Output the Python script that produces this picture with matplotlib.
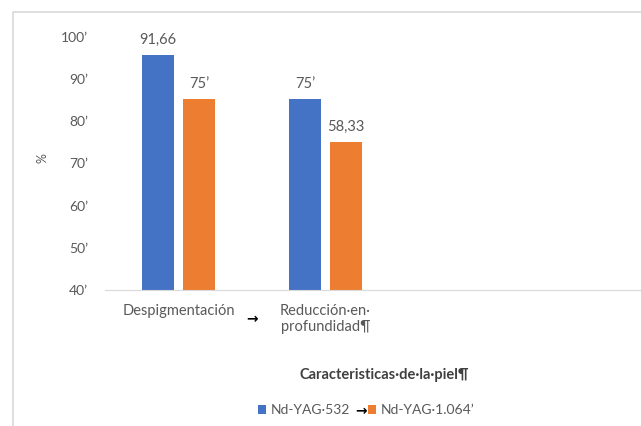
import numpy as np
import matplotlib
matplotlib.use("Agg")
import matplotlib.pyplot as plt
from matplotlib.patches import Rectangle

plt.rcParams['font.family'] = ['Lato', 'DejaVu Sans']

# Datos (alturas; etiquetas tal como aparecen)
categorias = ["Despigmentación", "Reducción·en·\nprofundidad¶"]
series = ["Nd-YAG·532", "Nd-YAG·1.064ʼ"]
alturas_532 = [95.7, 85.3]
alturas_1064 = [85.3, 75.1]
etiquetas_532 = ["91,66", "75ʼ"]
etiquetas_1064 = ["75ʼ", "58,33"]
yticks = [40, 50, 60, 70, 80, 90, 100]

azul = "#4472C4"
naranja = "#ED7D31"
gris = "#595959"

fig = plt.figure(figsize=(6.41, 4.26), dpi=100)
W, H = 641, 426

# marco del gráfico (gris claro, cortado a la derecha y abajo)
fig.patches.append(Rectangle((13 / W, -0.1), 1.2, 1 - 12 / H + 0.1, transform=fig.transFigure,
                             fill=False, edgecolor="#d9d9d9", linewidth=1.2))

ax = fig.add_axes([105 / W, 1 - 290 / H, (W - 105) / W, (290 - 37) / H])

x = np.arange(len(categorias))
ancho = 0.218
desp = 0.139
b1 = ax.bar(x - desp, alturas_532, ancho, color=azul, label=series[0])
b2 = ax.bar(x + desp, alturas_1064, ancho, color=naranja, label=series[1])
ax.bar_label(b1, labels=etiquetas_532, padding=6, color=gris, fontsize=10.5)
ax.bar_label(b2, labels=etiquetas_1064, padding=6, color=gris, fontsize=10.5)

ax.set_ylim(40, 100)
ax.set_xlim(-0.5, -0.5 + (W - 105) / 147)
ax.set_yticks(yticks)
ax.set_yticklabels([f"{v}ʼ" for v in yticks], color=gris, fontsize=10)
ax.set_xticks(x)
ax.set_xticklabels(categorias, color=gris, fontsize=10.5, linespacing=1.15)
ax.tick_params(axis="both", length=0)
ax.tick_params(axis="y", pad=12)
ax.tick_params(axis="x", pad=10)
for lado in ["left", "right", "top"]:
    ax.spines[lado].set_visible(False)
ax.spines["bottom"].set_color("#d9d9d9")

# marca de tabulación entre las categorías
ax.text(0.5, -0.115, "→", transform=ax.get_xaxis_transform(), ha="center", va="center",
        color="black", fontsize=10, family="DejaVu Sans", fontweight="bold")

ax.set_ylabel("%", color=gris, fontsize=9)
ax.yaxis.set_label_coords(-0.105, 0.52)

fig.text(384 / W, 1 - 375 / H, "Caracteristicas·de·la·piel¶", ha="center", va="center",
         fontsize=10.5, fontweight="bold", color="#404040")

ax.legend(loc="center", bbox_to_anchor=(366 / W, 1 - 410 / H), bbox_transform=fig.transFigure,
          ncol=2, frameon=False, fontsize=10, handlelength=0.6, handleheight=0.6,
          handletextpad=0.3, columnspacing=1.3, labelcolor=gris)
fig.text(361 / W, 1 - 411 / H, "→", ha="center", va="center", fontsize=10,
         family="DejaVu Sans", fontweight="bold", color="black")

fig.savefig("out.png", dpi=100)
